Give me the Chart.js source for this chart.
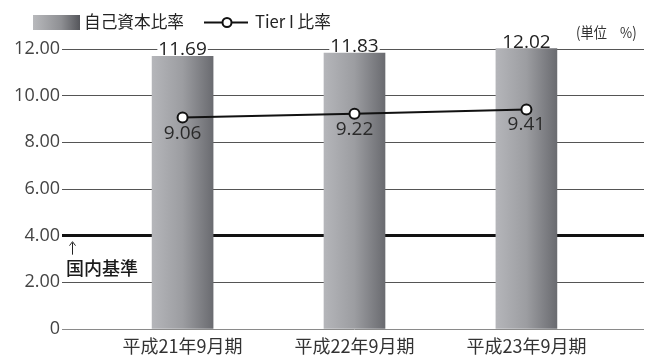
<!DOCTYPE html>
<html>
<head>
<meta charset="utf-8">
<script src="https://cdn.jsdelivr.net/npm/chart.js@4"></script>
<style>
  html,body{margin:0;padding:0;background:#fff;}
  #wrap{position:relative;width:651px;height:356px;}
</style>
</head>
<body>
<div id="wrap"><canvas id="c" width="651" height="356"></canvas></div>
<script>
// data
const categories = ['平成21年9月期', '平成22年9月期', '平成23年9月期'];
const capitalRatio = [11.69, 11.83, 12.02];
const tier1Ratio = [9.06, 9.22, 9.41];
const yTicks = [0, 2, 4, 6, 8, 10, 12];
const domesticStandard = 4;

const FONT = '"Open Sans", "Noto Sans", sans-serif';
const JFONT = '"Noto Sans CJK JP", sans-serif';

function barGradient(ctx){
  const chart = ctx.chart;
  if (!chart.chartArea) return '#999';
  const cx = chart.scales.x.getPixelForValue(ctx.dataIndex);
  const g = chart.ctx.createLinearGradient(cx-30, 0, cx+30, 0);
  g.addColorStop(0, '#b4b5b9');
  g.addColorStop(0.5, '#9c9da1');
  g.addColorStop(1, '#6b6c71');
  return g;
}

// condensed text helper
function narrowText(c, t, x, y, sx){
  c.save(); c.translate(x, y); c.scale(sx, 1); c.fillText(t, 0, 0); c.restore();
}

const extras = {
  id: 'extras',
  afterDatasetsDraw(chart){
    const c = chart.ctx;
    const x = chart.scales.x, y = chart.scales.y;
    c.save();
    // bar value labels with white box behind
    c.font = '19px ' + FONT;
    c.textAlign = 'center'; c.textBaseline = 'alphabetic';
    capitalRatio.forEach((v,i)=>{
      const px = x.getPixelForValue(i), py = y.getPixelForValue(v);
      const t = v.toFixed(2); const w = c.measureText(t).width;
      c.fillStyle = '#fff'; c.fillRect(px-w/2-1, py-18, w+2, 17);
      c.fillStyle = '#222'; c.fillText(t, px, py-1);
    });
    // line value labels
    tier1Ratio.forEach((v,i)=>{
      const px = x.getPixelForValue(i), py = y.getPixelForValue(v);
      c.fillStyle = '#2a2a2a'; c.fillText(v.toFixed(2), px, py+21);
    });
    // legend
    const lg = c.createLinearGradient(33,0,80,0);
    lg.addColorStop(0,'#b8b9bc'); lg.addColorStop(0.6,'#8e8f93'); lg.addColorStop(1,'#55565b');
    c.fillStyle = lg; c.fillRect(33, 15, 47, 15);
    c.font = '17px ' + JFONT; c.textAlign = 'left'; c.textBaseline = 'middle';
    c.fillStyle = '#222'; narrowText(c, '自己資本比率', 84, 22, 0.98);
    c.strokeStyle = '#111'; c.lineWidth = 2;
    c.beginPath(); c.moveTo(204, 22.5); c.lineTo(248, 22.5); c.stroke();
    c.fillStyle = '#fff'; c.beginPath(); c.arc(227, 22.5, 4.5, 0, Math.PI*2); c.fill(); c.stroke();
    c.fillStyle = '#222'; narrowText(c, 'Tier I 比率', 255, 22, 0.98);
    // unit
    c.font = '15px ' + JFONT; c.fillStyle = '#333';
    narrowText(c, '(単位　%)', 576, 32, 0.88);
    // domestic standard note
    const sy = y.getPixelForValue(domesticStandard);
    c.strokeStyle = '#222'; c.lineWidth = 1;
    c.beginPath(); c.moveTo(72.5, sy+7); c.lineTo(72.5, sy+19); c.stroke();
    c.beginPath(); c.moveTo(69.5, sy+10); c.lineTo(72.5, sy+6); c.lineTo(75.5, sy+10); c.stroke();
    c.font = '500 18px ' + JFONT; c.fillStyle = '#1a1a1a';
    c.fillText('国内基準', 66, sy+32);
    c.restore();
  }
};

new Chart(document.getElementById('c'), {
  type: 'bar',
  data: {
    labels: categories,
    datasets: [
      { type:'line', label:'Tier I 比率', data: tier1Ratio.map((v,i)=>({x:i, y:v})),
        borderColor:'#111', borderWidth:2, pointRadius:5, pointHoverRadius:5,
        pointBackgroundColor:'#fff', pointBorderColor:'#111', pointBorderWidth:2, order:0 },
      { label:'自己資本比率', data: capitalRatio.map((v,i)=>({x:i, y:v})),
        backgroundColor: barGradient, barThickness:61, clip:false, order:1 }
    ]
  },
  options: {
    responsive:false, animation:false,
    layout:{ padding:{ top:49, right:0, left:0, bottom:0 } },
    plugins:{ legend:{display:false}, tooltip:{enabled:false} },
    scales:{
      x:{ type:'linear', min:-0.684, max:2.684, offset:false,
        grid:{ display:false, drawTicks:false, offset:false }, border:{display:false},
        afterBuildTicks: s => { s.ticks = [0,1,2].map(v=>({value:v})); },
        afterFit: s => { s.height = 27; },
        ticks:{ padding:6, color:'#333', font:{ family: JFONT, size:18 },
          callback: v => categories[v] } },
      y:{ min:0, max:12,
        afterBuildTicks: s => { s.ticks = yTicks.map(v=>({value:v})); },
        afterFit: s => { s.width = 65; },
        border:{display:false},
        grid:{ drawTicks:true, tickLength:3,
          color: ctx => ctx.tick && ctx.tick.value === 0 ? '#8a8a8a' : (ctx.tick && ctx.tick.value === domesticStandard ? '#111' : '#555'),
          lineWidth: ctx => ctx.tick && ctx.tick.value === domesticStandard ? 3 : 1 },
        ticks:{ padding:2, color:'#444', font:{ family: FONT, size:18 },
          callback: v => v === 0 ? '0' : v.toFixed(2) } }
    }
  },
  plugins:[extras]
});
</script>
</body>
</html>
